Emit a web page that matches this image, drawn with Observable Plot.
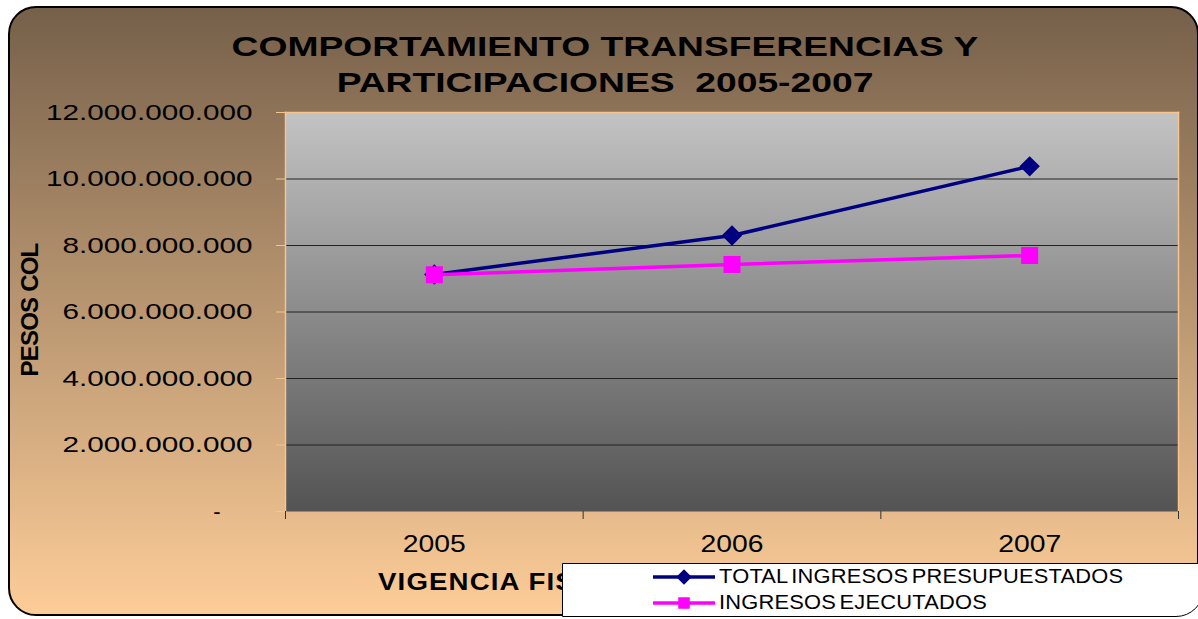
<!DOCTYPE html>
<html><head><meta charset="utf-8">
<script src="https://cdn.jsdelivr.net/npm/d3@7"></script>
<script src="https://cdn.jsdelivr.net/npm/@observablehq/plot@0.6"></script>
<style>
html,body{margin:0;padding:0;background:#fff;}
#wrap{position:relative;width:1198px;height:619px;overflow:hidden;font-family:"Liberation Sans",Arial,sans-serif;color:#000;}
#bg{position:absolute;left:8px;top:6px;width:1187px;height:606px;border:2.5px solid #000;border-radius:28px;background:linear-gradient(#76604a,#fdcd98);}
#chart{position:absolute;left:0;top:0;}
.t{position:absolute;white-space:pre;font-weight:bold;}
#title1,#title2{font-size:28px;letter-spacing:0px;transform:translateX(-50%) scaleX(1.33);left:605px;}
#title1{top:31px;}
#title2{top:67px;}
#ylab{font-size:24px;letter-spacing:-0.8px;left:30px;top:310px;transform:translate(-50%,-50%) rotate(-90deg);}
#xlab{font-size:24px;letter-spacing:1px;left:378px;top:568px;transform-origin:0 50%;transform:scaleX(1.15);}
#legend{position:absolute;left:562px;top:563px;width:640px;height:52px;background:#fff;border:1.5px solid #000;border-bottom-right-radius:28px;}
.li{position:absolute;left:88px;display:flex;align-items:center;white-space:nowrap;}
.li span{display:inline-block;font-size:19.5px;letter-spacing:0.2px;word-spacing:-2.5px;transform-origin:0 50%;transform:scaleX(1.12);}
.li svg{margin-right:2px;}
</style></head>
<body>
<div id="wrap">
  <div id="bg"></div>
  <div id="chart"></div>
  <div class="t" id="title1"></div>
  <div class="t" id="title2"></div>
  <div class="t" id="ylab"></div>
  <div class="t" id="xlab"></div>
  <div id="legend"></div>
</div>
<script>
// ---- data ----
const years = [2005, 2006, 2007];
const presupuestado = [7130000000, 8300000000, 10380000000];
const ejecutado = [7120000000, 7430000000, 7700000000];
const yTicks = [0, 2000000000, 4000000000, 6000000000, 8000000000, 10000000000, 12000000000];
const seriesNames = ["TOTAL INGRESOS PRESUPUESTADOS", "INGRESOS EJECUTADOS"];
const seriesColors = ["#000080", "#ff00ff"];
const titleLines = ["COMPORTAMIENTO TRANSFERENCIAS Y", "PARTICIPACIONES  2005-2007"];
const yTitle = "PESOS COL";
const xTitle = "VIGENCIA FISCAL";

// ---- tables ----
const dataPres = years.map((y, i) => ({year: y, value: presupuestado[i]}));
const dataEje = years.map((y, i) => ({year: y, value: ejecutado[i]}));
const bounds = [years[0] - 0.5, ...years.map(y => y + 0.5)];
const fmt = d => d === 0 ? "-" : d3.format(",")(d).replace(/,/g, ".");

const svg = Plot.plot({
  width: 1198, height: 619,
  marginLeft: 285, marginRight: 20, marginTop: 112, marginBottom: 108,
  style: {background: "transparent", fontFamily: "Liberation Sans, Arial, sans-serif", color: "#000", overflow: "visible"},
  x: {type: "linear", domain: [bounds[0], bounds[bounds.length - 1]]},
  y: {domain: [0, 12000000000]},
  marks: [
    Plot.frame({fill: "url(#plotGrad)", stroke: "none"}),
    Plot.gridY(yTicks.slice(1, -1), {stroke: "#222", strokeOpacity: 1, strokeWidth: 1}),
    Plot.frame({stroke: "#f6c48c", strokeWidth: 1.5, anchor: "left"}),
    Plot.frame({stroke: "#f6c48c", strokeWidth: 1.5, anchor: "top"}),
    Plot.frame({stroke: "#f6c48c", strokeWidth: 1.5, anchor: "right"}),
    Plot.axisY(yTicks, {tickSize: 9, tickPadding: 24, stroke: "#f6c48c", fontSize: 22, tickFormat: fmt, label: null}),
    Plot.axisX(years, {tickSize: 0, tickPadding: 24, fontSize: 23, tickFormat: d => String(d), label: null}),
    Plot.axisX(bounds, {tickSize: 8, tickPadding: 0, stroke: "#333", tickFormat: () => "", label: null}),
    Plot.line(dataPres, {x: "year", y: "value", stroke: seriesColors[0], strokeWidth: 3.5}),
    Plot.dot(dataPres, {x: "year", y: "value", symbol: "diamond2", r: 9.2, fill: seriesColors[0], stroke: "none"}),
    Plot.line(dataEje, {x: "year", y: "value", stroke: seriesColors[1], strokeWidth: 3.5}),
    Plot.dot(dataEje, {x: "year", y: "value", symbol: "square", r: 9.6, fill: seriesColors[1], stroke: "none"})
  ]
});
svg.insertAdjacentHTML("afterbegin",
  '<defs><linearGradient id="plotGrad" x1="0" y1="0" x2="0" y2="1">' +
  '<stop offset="0" stop-color="#c3c3c3"/><stop offset="1" stop-color="#535353"/></linearGradient></defs>');
document.getElementById("chart").appendChild(svg);

// horizontally stretched tick labels, as in the original
function stretch(sel, k) {
  svg.querySelectorAll(sel).forEach(t => {
    if (t.textContent === "-") { t.setAttribute("dx", -32); return; }
    const L = t.getComputedTextLength();
    t.setAttribute("textLength", L * k);
    t.setAttribute("lengthAdjust", "spacingAndGlyphs");
  });
}
stretch('g[aria-label="y-axis tick label"] text', 1.35);
stretch('g[aria-label="x-axis tick label"] text', 1.23);

document.getElementById("title1").textContent = titleLines[0];
document.getElementById("title2").textContent = titleLines[1];
document.getElementById("ylab").textContent = yTitle;
document.getElementById("xlab").textContent = xTitle;

// legend
const legend = document.getElementById("legend");
const sizes = [7, 6.5];
seriesNames.forEach((name, i) => {
  const item = document.createElement("div");
  item.className = "li";
  item.style.top = (i === 0 ? 1 : 27) + "px";
  const sym = d3.symbol(i === 0 ? d3.symbolDiamond2 : d3.symbolSquare, Math.PI * sizes[i] * sizes[i])();
  item.innerHTML = `<svg width="66" height="22" viewBox="0 0 66 22"><line x1="2" x2="64" y1="11" y2="11" stroke="${seriesColors[i]}" stroke-width="3.5"/><path transform="translate(33,11)" d="${sym}" fill="${seriesColors[i]}"/></svg>`;
  const span = document.createElement("span");
  span.textContent = name;
  item.appendChild(span);
  legend.appendChild(item);
});
</script>
</body></html>
